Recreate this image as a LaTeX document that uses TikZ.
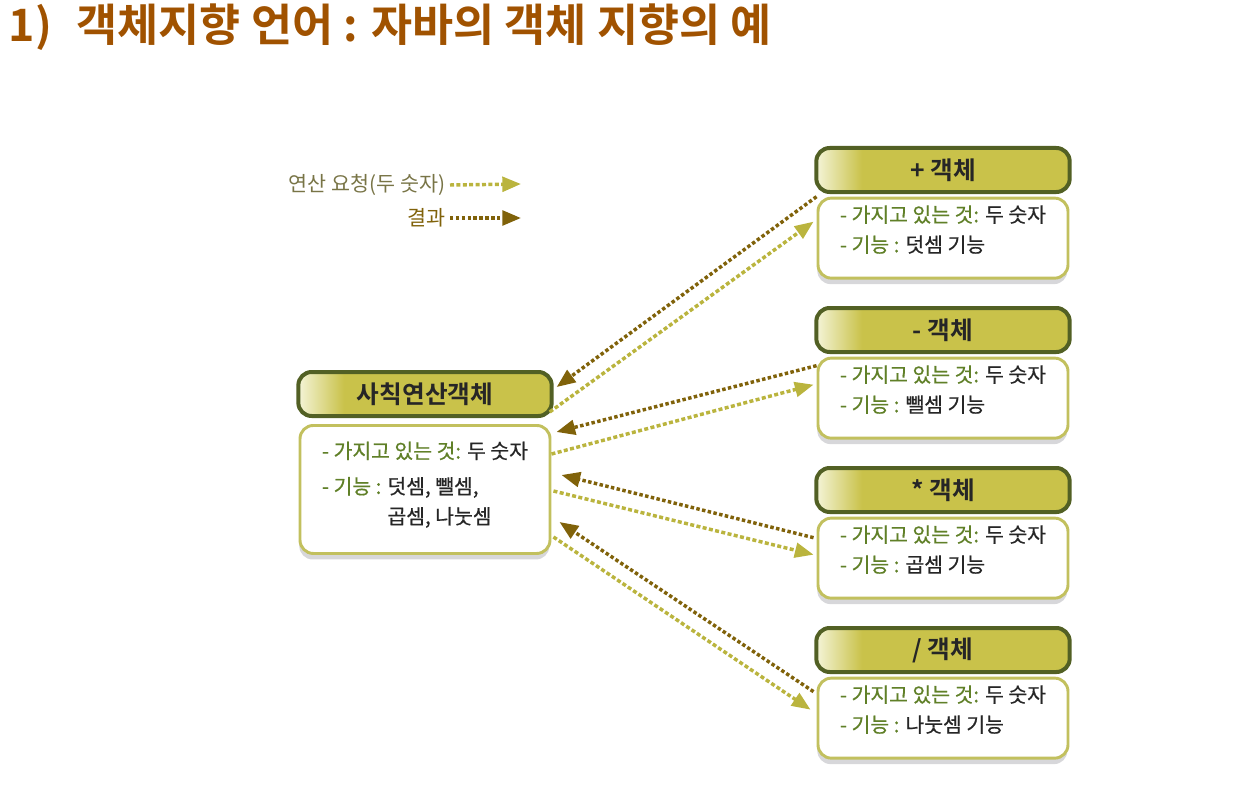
\documentclass[tikz,border=0pt]{standalone}
\usepackage{fontspec}
\setmainfont{Noto Sans CJK KR}[BoldFont={Noto Sans CJK KR Bold}]
\newfontfamily\medfont{Noto Sans CJK KR}[FakeBold=0.6]
\usetikzlibrary{arrows.meta, positioning, calc, shadows}
\definecolor{titlebrown}{RGB}{160,82,0}
\definecolor{hdfill}{RGB}{201,194,74}
\definecolor{hdhi}{RGB}{244,244,215}
\definecolor{hdline}{RGB}{82,96,36}
\definecolor{bdline}{RGB}{194,192,94}
\definecolor{labgreen}{RGB}{96,128,40}
\definecolor{reqcol}{RGB}{186,180,62}
\definecolor{rescol}{RGB}{128,98,10}
\definecolor{legtext}{RGB}{120,116,70}
\definecolor{shadowgray}{RGB}{215,215,218}
\pgfdeclarehorizontalshading{hdshade}{100bp}{color(0bp)=(hdhi); color(25bp)=(hdhi); color(34bp)=(hdfill); color(100bp)=(hdfill)}
\newcommand{\lab}[1]{\textcolor{labgreen}{#1}}
\tikzset{
  hdbox/.style={draw=hdline, line width=3pt, shading=hdshade, rounded corners=10pt,
    minimum width=190pt, minimum height=33pt, text=black!85,
    font=\fontsize{18.5}{20}\selectfont\bfseries},
  bdbox/.style={draw=bdline, line width=2.2pt, fill=white, rounded corners=10pt,
    minimum width=187.5pt, align=left, text=black!85,
    font=\medfont\fontsize{15.3}{22.5}\selectfont,
    drop shadow={shadow xshift=-0.5pt, shadow yshift=-4.5pt, fill=shadowgray, opacity=1}},
  reqline/.style={draw=reqcol, line width=2.6pt, dash pattern=on 3pt off 1.8pt,
    -{Triangle[length=14pt, width=11pt]}},
  resline/.style={draw=rescol, line width=2.6pt, dash pattern=on 2.6pt off 1.8pt,
    -{Triangle[length=14pt, width=11pt]}},
  legend/.style={font=\fontsize{15.5}{18}\selectfont, text=legtext}
}
\begin{document}
\begin{tikzpicture}[x=0.75pt, y=-0.75pt]
  \useasboundingbox (0,0) rectangle (1234,795);

  % Title
  \node[anchor=west, text=titlebrown, font=\fontsize{33.5}{35}\selectfont\bfseries] (title)
    at (4,27) {1)\hspace{0.55em}객체지향 언어 : 자바의 객체 지향의 예};

  % Legend
  \node[legend, anchor=east] (reqlbl) at (450,185) {연산 요청(두 숫자)};
  \node[legend, anchor=east, text=rescol] (reslbl) at (450,218) {결과};
  \coordinate (reqend) at (521,184);
  \coordinate (resend) at (521,218);
  \draw[reqline] (reqlbl.east) -- (reqend);
  \draw[resline] (reslbl.east) -- (resend);

  % Main object
  \node[hdbox] (mainhd) at (425,394) {사칙연산객체};
  \node[bdbox, minimum height=96pt, text depth=10pt, below=4.5pt of mainhd] (mainbd)
    {\lab{- 가지고 있는 것:} 두 숫자\\[4pt]
     \lab{- 기능 :} 덧셈, 뺄셈,\\
     \phantom{- 기능 : }곱셈, 나눗셈};

  % Operator objects
  \node[hdbox] (plushd) at (943,170) {+ 객체};
  \node[bdbox, minimum height=60pt, text depth=14pt, below=2pt of plushd] (plusbd)
    {\lab{- 가지고 있는 것:} 두 숫자\\ \lab{- 기능 :} 덧셈 기능};
  \node[hdbox] (minushd) at (943,330) {- 객체};
  \node[bdbox, minimum height=60pt, text depth=14pt, below=2pt of minushd] (minusbd)
    {\lab{- 가지고 있는 것:} 두 숫자\\ \lab{- 기능 :} 뺄셈 기능};
  \node[hdbox] (timeshd) at (943,490) {* 객체};
  \node[bdbox, minimum height=60pt, text depth=14pt, below=2pt of timeshd] (timesbd)
    {\lab{- 가지고 있는 것:} 두 숫자\\ \lab{- 기능 :} 곱셈 기능};
  \node[hdbox] (divhd) at (943,650) {/ 객체};
  \node[bdbox, minimum height=60pt, text depth=14pt, below=2pt of divhd] (divbd)
    {\lab{- 가지고 있는 것:} 두 숫자\\ \lab{- 기능 :} 나눗셈 기능};

  % Requests and results
  \draw[resline] ($(plusbd.north west)+(0,0)$) -- ($(mainhd.east)+(3,-7)$);
  \draw[reqline] ($(mainhd.south east)+(-4,-6)$) -- ($(plusbd.north west)+(-3,25)$);
  \draw[resline] ($(minusbd.north west)+(0,9)$) -- ($(mainbd.north east)+(5,8)$);
  \draw[reqline] ($(mainbd.north east)+(0,30)$) -- ($(minusbd.north west)+(-3,28)$);
  \draw[resline] ($(timesbd.north west)+(-3,21)$) -- ($(mainbd.north east)+(10,51)$);
  \draw[reqline] ($(mainbd.north east)+(2,67)$) -- ($(timesbd.north west)+(-3,38)$);
  \draw[resline] ($(divbd.north west)+(-3,15)$) -- ($(mainbd.north east)+(8,98)$);
  \draw[reqline] ($(mainbd.north east)+(2,113)$) -- ($(divbd.north west)+(-6,33)$);
\end{tikzpicture}
\end{document}
